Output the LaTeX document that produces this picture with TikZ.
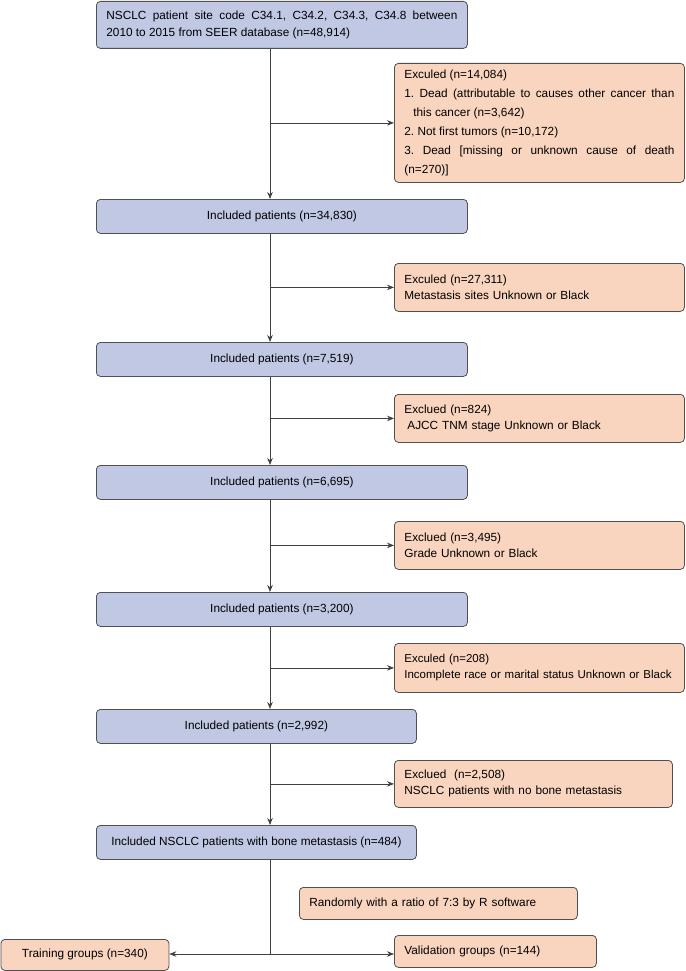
\documentclass[tikz,border=0pt]{standalone}
\usepackage{fontspec}
\setmainfont{Liberation Sans}
\usetikzlibrary{arrows.meta}
\definecolor{incblue}{HTML}{C1C8E4}
\definecolor{excorange}{HTML}{F9D5BF}
\definecolor{boxline}{HTML}{505050}
\setlength{\parindent}{0pt}
\setlength{\parskip}{0pt}
\frenchspacing

\begin{document}
\begin{tikzpicture}[x=1pt, y=-1pt, >={Stealth[length=7pt,width=5.5pt]},
    flowbox/.style={draw=boxline, line width=0.8pt, rounded corners=4pt, anchor=north west,
        inner xsep=10pt, inner ysep=2pt, font=\fontsize{11.8}{16}\selectfont},
    incbox/.style={flowbox, fill=incblue},
    excbox/.style={flowbox, fill=excorange, text width=270pt, minimum height=48pt, align=left},
    link/.style={line width=0.75pt, draw=black!75}]
    \useasboundingbox (0,0) rectangle (685,971);

    %source
    \node[incbox, text width=351pt, minimum height=47pt, align=justify,
        font=\fontsize{11.8}{17}\selectfont] (src) at (96,1)
        {NSCLC patient site code C34.1, C34.2, C34.3, C34.8 between\linebreak 2010 to 2015 from SEER database (n=48,914)};

    %included
    \node[incbox, minimum width=371pt, minimum height=34pt] (inc1) at (96,199) {Included patients (n=34,830)};
    \node[incbox, minimum width=371pt, minimum height=34pt] (inc2) at (96,342) {Included patients (n=7,519)};
    \node[incbox, minimum width=371pt, minimum height=34pt] (inc3) at (96,465) {Included patients (n=6,695)};
    \node[incbox, minimum width=371pt, minimum height=34pt] (inc4) at (96,592) {Included patients (n=3,200)};
    \node[incbox, minimum width=320pt, minimum height=34pt] (inc5) at (96,709) {Included patients (n=2,992)};
    \node[incbox, minimum width=320pt, minimum height=34pt] (inc6) at (96,825) {Included NSCLC patients with bone metastasis (n=484)};

    %excluded
    \node[excbox, minimum height=119pt, align=justify, font=\fontsize{11.8}{19}\selectfont] (exc1) at (394,63)
        {Exculed (n=14,084)\par
        \hangindent=9pt\hangafter=1 1. Dead (attributable to causes other cancer than\linebreak this cancer (n=3,642)\par
        2. Not first tumors (n=10,172)\par
        \hangindent=9pt\hangafter=1 3. Dead [missing or unknown cause of death\linebreak (n=270)]};
    \node[excbox] (exc2) at (394,263) {Exculed (n=27,311)\\Metastasis sites Unknown or Black};
    \node[excbox] (exc3) at (394,394) {Exclued (n=824)\\\hspace*{3pt}AJCC TNM stage Unknown or Black};
    \node[excbox] (exc4) at (394,521) {Exclued (n=3,495)\\Grade Unknown or Black};
    \node[excbox, minimum height=49pt, font=\fontsize{11.5}{16}\selectfont] (exc5) at (394,643) {Exculed (n=208)\\Incomplete race or marital status Unknown or Black};
    \node[excbox, text width=258pt, minimum height=47pt] (exc6) at (394,760) {Exclued\ \ (n=2,508)\\NSCLC patients with no bone metastasis};

    %groups
    \node[excbox, text width=258pt, minimum height=32pt] (rand) at (299,887) {Randomly with a ratio of 7:3 by R software};
    \node[flowbox, fill=excorange, minimum width=168pt, minimum height=31pt] (train) at (0.5,939) {Training groups (n=340)};
    \node[excbox, text width=182pt, minimum height=32pt] (valid) at (394,935) {Validation groups (n=144)};

    %trunk
    \coordinate (trunk) at (270,0);
    \coordinate (split) at (270,954);

    \draw[link, ->] (src.south -| trunk) -- (inc1.north -| trunk);
    \draw[link, ->] (inc1.south -| trunk) -- (inc2.north -| trunk);
    \draw[link, ->] (inc2.south -| trunk) -- (inc3.north -| trunk);
    \draw[link, ->] (inc3.south -| trunk) -- (inc4.north -| trunk);
    \draw[link, ->] (inc4.south -| trunk) -- (inc5.north -| trunk);
    \draw[link, ->] (inc5.south -| trunk) -- (inc6.north -| trunk);

    %branches
    \draw[link, ->] (trunk |- exc1.west) -- (exc1.west);
    \draw[link, ->] (trunk |- exc2.west) -- (exc2.west);
    \draw[link, ->] (trunk |- exc3.west) -- (exc3.west);
    \draw[link, ->] (trunk |- exc4.west) -- (exc4.west);
    \draw[link, ->] (trunk |- exc5.west) -- (exc5.west);
    \draw[link, ->] (trunk |- exc6.west) -- (exc6.west);

    %split
    \draw[link] (inc6.south -| trunk) -- (split);
    \draw[link, ->] (split) -- (split -| train.east);
    \draw[link, ->] (split) -- (split -| valid.west);
\end{tikzpicture}
\end{document}
